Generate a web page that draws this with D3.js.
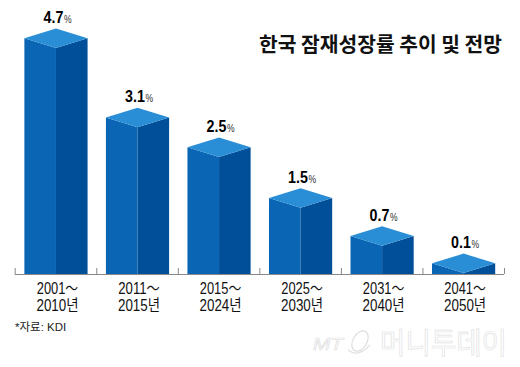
<!DOCTYPE html>
<html><head><meta charset="utf-8">
<script src="https://cdn.jsdelivr.net/npm/d3@7/dist/d3.min.js"></script>
<style>html,body{margin:0;padding:0;background:#fff}svg{display:block}text{font-family:"Liberation Sans","Noto Sans CJK KR",sans-serif}</style>
</head><body><svg id="c" width="520" height="367"></svg>
<script>
const values=[4.7,3.1,2.5,1.5,0.7,0.1];
const labelsTop=["2001～","2011～","2015～","2025～","2031～","2041～"];
const labelsBottom=["2010년","2015년","2024년","2030년","2040년","2050년"];
const titleText="한국 잠재성장률 추이 및 전망";
const sourceText="*자료: KDI";
const watermarkText="머니투데이";
const svg=d3.select("#c");
const x=d3.scaleBand().domain(labelsTop).range([14.6,505]).paddingInner(0.225).paddingOuter(0.12);
const y=d3.scaleLinear().domain([0.1,0.7,1.5,2.5,4.7]).range([273,245.7,207.7,157,48]);
const base=274, dy=9.7;
const KR='"Noto Sans CJK KR",sans-serif';
const g=svg.append("g");
values.forEach((v,i)=>{
  const L=x(labelsTop[i]),W=x.bandwidth(),M=L+W/2,R=L+W,F=y(v),C=F-dy,A=F-2*dy;
  const p=(pts,fill)=>g.append("path").attr("d",d3.line()(pts)+"Z").attr("fill",fill);
  p([[L,C],[M,F],[M,base],[L,base]],"#0a66b4");
  p([[M,F],[R,C],[R,base],[M,base]],"#024f99");
  p([[L,C],[M,A],[R,C],[M,F]],"#2a8ed6");
  g.append("text").attr("transform",`translate(${M-12.5},${A-5.5}) scale(0.84,1)`).attr("font-size",17).attr("font-weight","bold").text(v.toFixed(1));
  g.append("text").attr("transform",`translate(${M+8},${A-5.5}) scale(0.78,1)`).attr("font-size",11).attr("fill","#333").text("%");
  const attrs=(s,yy,txt,len)=>s.attr("x",M+1.5).attr("y",yy).attr("text-anchor","middle").attr("font-size",16).attr("fill","#111").attr("textLength",len).attr("lengthAdjust","spacingAndGlyphs").text(txt);
  attrs(g.append("text"),293.5,labelsTop[i],41.5);
  attrs(g.append("text"),311,labelsBottom[i],42);
});
const ax=d3.axisBottom(d3.scaleLinear().domain([0,6]).range([14.7,504])).ticks(6).tickSize(-6).tickFormat("");
const axg=svg.append("g").attr("transform",`translate(0,${base})`).call(ax);
axg.selectAll("path").attr("stroke","#888").attr("d","M14.7,0.5H504");
axg.selectAll("line").attr("stroke","#888");
svg.append("text").attr("x",502).attr("y",52).attr("text-anchor","end").attr("font-size",20.5).attr("font-weight","700").attr("fill","#111").attr("textLength",243).attr("lengthAdjust","spacingAndGlyphs").style("font-family",KR).text(titleText);
svg.append("text").attr("x",15).attr("y",331).attr("font-size",11.5).attr("fill","#222").text(sourceText);
svg.append("text").attr("x",380).attr("y",354).attr("font-size",29).attr("fill","#fff").attr("stroke","#e2e2e2").attr("stroke-width",0.7).attr("textLength",127).attr("lengthAdjust","spacingAndGlyphs").style("font-family",KR).text(watermarkText);
svg.append("text").attr("x",313).attr("y",350).attr("font-size",17).attr("font-style","italic").attr("fill","#fff").attr("stroke","#dcdcdc").attr("stroke-width",0.6).attr("textLength",30).attr("lengthAdjust","spacingAndGlyphs").text("MT");
svg.append("ellipse").attr("cx",360).attr("cy",341).attr("rx",7).attr("ry",11).attr("transform","rotate(30 360 341)").attr("fill","none").attr("stroke","#dedede").attr("stroke-width",1.2);
svg.append("path").attr("d","M348,350Q358,358 370,345").attr("fill","none").attr("stroke","#e2e2e2").attr("stroke-width",1.2);
</script></body></html>
